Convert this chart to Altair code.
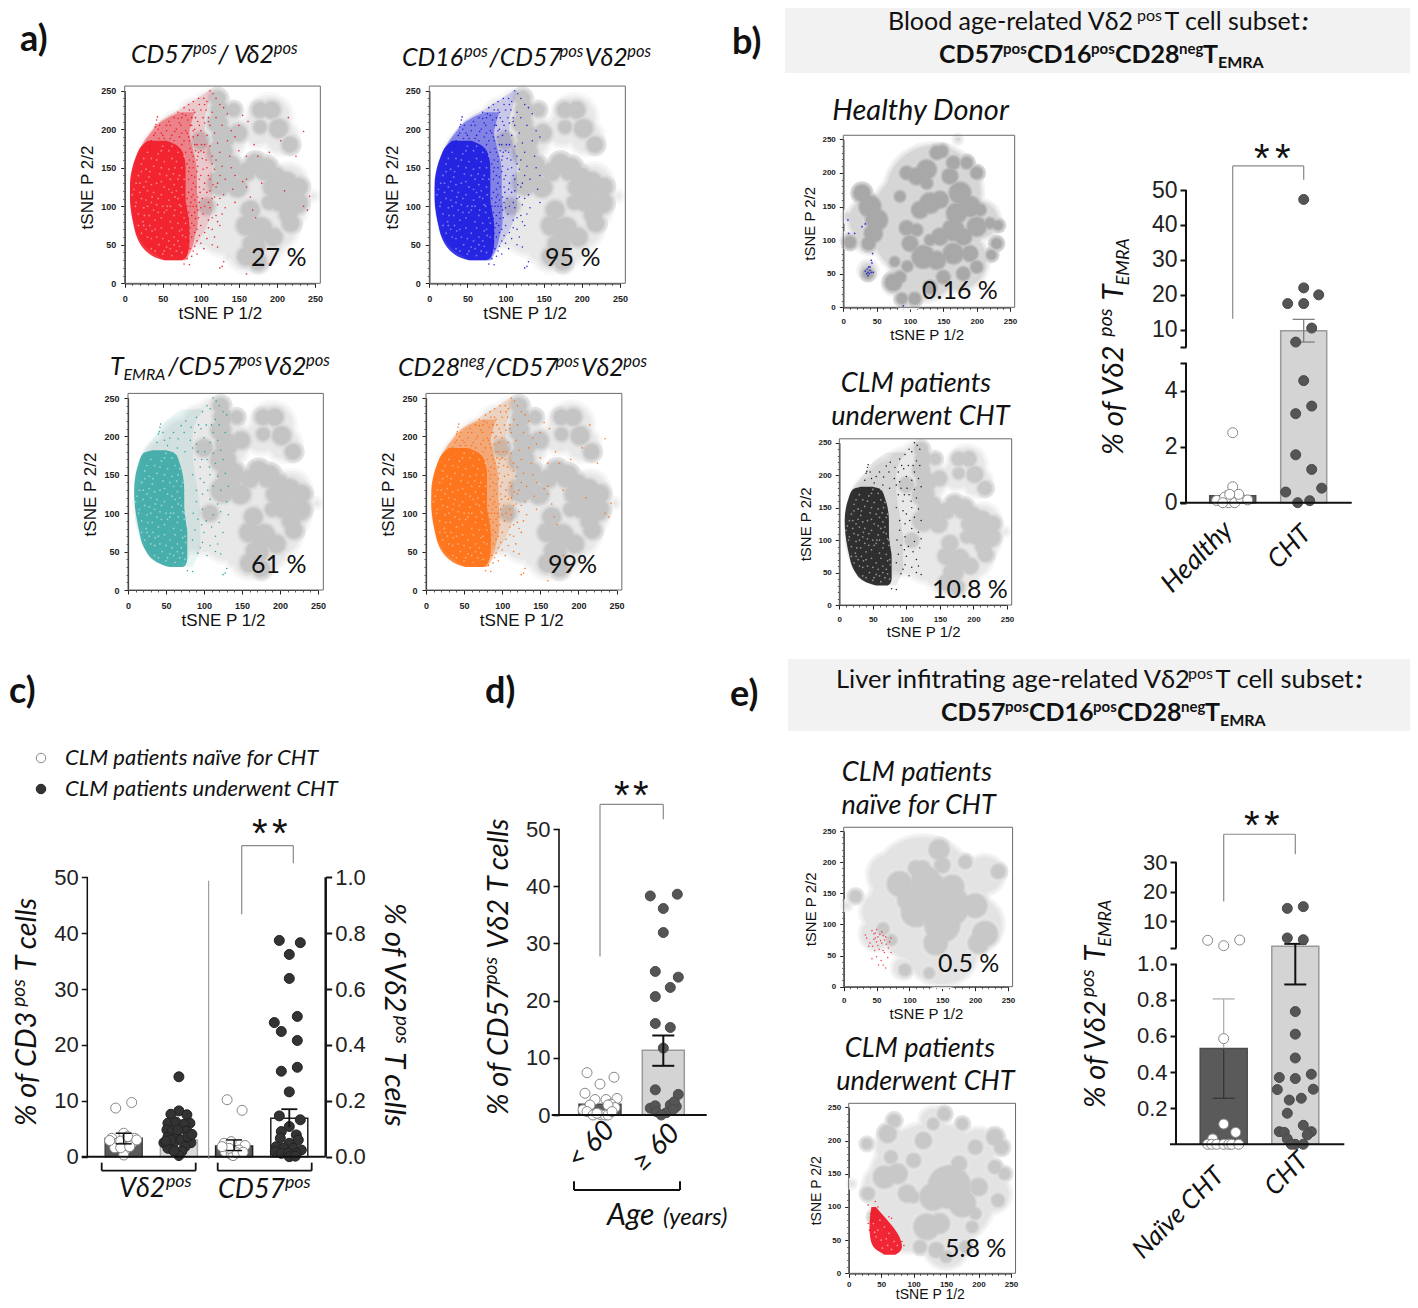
import math
import altair as alt
import pandas as pd

alt.data_transformers.disable_max_rows()

W, H = 1402, 1292
M = 8
ARIAL = "Liberation Sans"
BODY = "Lato"

# ---------------- t-SNE map values ----------------
PALE_A = [(55,110,48),(55,70,35),(60,160,45),(75,190,35),(95,215,25),(115,225,25),(125,190,35),(145,200,15),
          (100,130,45),(100,80,35),(130,120,50),(130,70,35),(190,215,30),(205,190,22),(175,200,22),(170,120,45),
          (205,110,35),(215,130,25),(170,65,48),(195,75,35),(160,40,25),(175,30,15),(218,95,20),(140,40,10),(248,113,3)]
DARK_A = [(122,240,7),(125,225,9),(122,208,10),(130,190,12),(125,170,14),(135,150,15),(125,130,13),(148,125,10),
          (160,145,9),(172,155,10),(185,148,12),(200,140,7),(195,125,10),(212,130,12),(228,125,9),(205,108,12),
          (225,105,12),(215,90,9),(190,105,6),(165,95,9),(160,75,10),(178,70,13),(195,60,9),(170,50,12),(160,35,9),
          (175,28,8),(218,78,8),(178,225,7),(193,225,8),(202,201,9),(178,203,5),(217,180,7),(149,195,8),(143,225,5),
          (100,185,8),(108,100,7)]
PALE_B = [(125,125,95),(135,170,80),(40,130,35),(40,105,25),(120,60,55),(170,70,50),(205,130,30),(10,100,10),
          (37,55,12),(75,35,14),(90,12,10),(105,12,10),(172,250,3),(8,135,6)]
DARK_B = [(28,170,10),(40,150,14),(50,130,14),(45,110,11),(38,95,7),(10,97,6),(37,50,5),(75,37,10),(85,45,6),(88,13,5),
          (107,13,6),(77,68,4),(96,61,5),(125,205,12),(140,230,7),(148,232,6),(165,215,7),(185,215,6),(200,200,6),
          (110,195,10),(95,200,7),(130,155,13),(115,145,10),(145,160,10),(175,170,14),(160,195,9),(125,185,6),
          (190,150,13),(170,140,13),(205,145,6),(220,125,5),(232,122,4),(200,120,12),(165,115,14),(145,105,10),
          (100,95,9),(95,118,8),(110,115,6),(120,75,15),(140,70,11),(165,80,13),(190,80,9),(230,95,5),(222,78,4),
          (200,60,6),(180,50,7),(150,45,7),(130,30,7),(85,165,5),(180,105,10),(130,100,5)]
PALE_E1 = [(130,130,100),(120,160,85),(60,120,35),(70,180,35),(150,60,60),(200,100,45),(215,180,30),(90,30,15),
           (130,25,15),(5,130,4),(50,85,25),(150,30,20)]
DARK_E1 = [(130,150,30),(160,130,30),(110,120,20),(85,165,16),(150,100,25),(140,70,15),(200,130,15),(215,85,16),
           (205,70,12),(145,220,12),(150,195,8),(185,200,6),(235,185,7),(120,190,8),(18,145,5),(60,93,5),(73,75,4),
           (93,27,5),(130,22,4),(125,170,20),(100,140,15),(165,160,15),(110,190,8)]
PALE_E2 = [(130,130,110),(60,130,40),(70,190,30),(200,190,30),(220,120,30),(150,40,35),(90,60,30),(5,135,3),(130,230,20)]
DARK_E2 = [(155,130,32),(130,115,18),(175,105,18),(120,70,17),(140,75,12),(70,230,6),(65,175,6),(28,195,4),(60,210,10),
           (55,145,14),(75,150,12),(90,120,10),(30,120,6),(115,200,9),(100,170,7),(130,225,5),(147,240,6),(175,225,5),
           (195,190,7),(225,205,9),(235,190,7),(225,160,6),(240,150,5),(230,110,6),(200,130,10),(195,90,5),(150,25,5),
           (135,35,8),(100,115,5),(110,40,6),(180,40,5),(190,70,5),(40,85,5),(170,165,8)]

CORE_Y = [30,33,40,50,60,75,90,110,130,150,165,178,185]
CORE_L = [52,42,30,21,16,12,9,7,7,10,15,22,30]
CORE_R = [75,80,83,85,85,85,83,80,80,80,78,70,55]
MID_Y = [30,45,60,80,100,120,140,160,180,195,210,222]
MID_L = [52,30,18,11,8,7,9,14,23,34,48,72]
MID_R = [80,88,92,96,96,95,95,93,88,85,88,92]
FRINGE_Y = [30,45,60,80,100,120,140,160,180,195,210,225,240,250]
FRINGE_L = [55,28,16,10,7,7,9,13,22,32,45,70,95,110]
FRINGE_R = [82,90,100,110,115,115,115,115,110,105,105,108,112,115]
TCORE_Y = [30,33,40,50,60,75,90,110,130,150,165,178,182]
TCORE_L = [55,45,32,24,19,15,12,9,8,10,14,20,32]
TCORE_R = [72,76,78,78,78,78,76,74,74,72,68,62,50]
TFR_Y = [30,60,100,140,180,200,220,235]
TFR_L = [50,18,9,9,20,35,50,70]
TFR_R = [85,95,95,90,85,85,90,100]
PATCH_Y = [28,32,40,55,70,85,100]
PATCH_L = [55,48,38,33,32,33,35]
PATCH_R = [72,78,82,78,68,55,42]

SPARSE = [(90,225),(98,232),(104,240),(112,250),(116,246),(108,236),(120,240),(125,232),(115,222),(103,215),(96,210),
          (88,205),(112,205),(120,215),(130,228),(135,220),(128,205),(140,198),(118,195),(108,192),(100,198),(90,190),
          (112,178),(122,182),(135,185),(145,190),(150,205),(155,218),(162,210),(150,172),(138,165),(125,170),(115,165),
          (104,170),(95,160),(108,150),(118,148),(128,152),(140,150),(112,135),(122,130),(132,135),(145,140),(155,132),
          (160,125),(142,122),(130,115),(118,112),(108,118),(98,105),(112,98),(122,102),(132,98),(145,105),(120,88),
          (110,82),(100,75),(115,70),(125,75),(118,60),(108,58),(98,62),(92,48),(104,45),(115,50),(122,47),(125,20),
          (128,22),(130,28),(78,25),(85,24),(97,85),(103,90),(90,130),(95,145),(88,170),(92,180),(85,150),(98,125),
          (90,115),(86,100),(92,92),(88,78),(95,55),(85,65),(100,140),(105,130),(107,160),(101,180),(97,170),(110,215),
          (93,215),(83,212),(76,220),(70,214),(60,205),(55,198),(66,197),(74,205),(82,195),(65,185),(75,180),(85,185),
          (42,212),(41,206),(43,216),(40,203),(48,195),(38,192),(52,188),(46,205),(160,135),(165,112),(180,130),(215,215),
          (235,197),(205,185),(190,170),(225,165),(235,100),(243,113),(240,95),(210,120),(175,165),(168,95),(172,85),
          (190,25),(180,45),(160,12),(170,180),(160,165)]
EXTRA = [(82,40),(86,45),(84,55),(88,60),(92,66),(86,72),(91,75),(95,70),(84,84),(88,88),(93,84),(96,95),(84,92),(87,105),
         (92,108),(96,112),(102,110),(84,118),(88,122),(93,125),(99,118),(104,122),(84,135),(88,140),(92,138),(98,135),
         (103,148),(84,145),(90,150),(96,152),(85,160),(90,165),(96,165),(102,162),(80,170),(86,175),(93,172),(78,185),
         (84,190),(90,198),(96,192),(72,190),(80,198),(86,205),(92,200),(98,205),(105,208),(62,192),(68,200),(75,195),
         (58,210),(65,215),(72,208),(80,218),(85,225),(92,222),(100,225),(78,228),(84,232),(90,236),(97,240),(105,232),
         (35,185),(40,195),(45,188),(50,192),(55,205),(60,188),(33,178),(44,200),(70,222),(75,215),(88,215),(107,225),
         (110,210),(95,180),(100,172),(105,180),(90,158),(82,155),(88,112),(82,110),(82,100),(90,100),(94,100),(100,98),
         (105,100),(110,105),(115,110),(112,120),(116,128),(110,140),(115,155),(120,160),(125,140),(120,125),(125,110),
         (128,90),(122,80),(115,85),(110,72),(105,66),(100,52),(90,42),(95,38),(88,35),(82,32)]
SPECKS = [(30,60),(45,50),(60,45),(70,55),(25,75),(40,70),(55,65),(75,70),(18,90),(32,88),(48,85),(65,88),(78,85),
          (15,105),(28,108),(42,102),(58,108),(72,102),(12,122),(25,125),(38,118),(52,125),(68,120),(75,125),(18,140),
          (32,138),(46,142),(60,135),(72,140),(22,155),(38,152),(52,158),(66,150),(30,170),(44,168),(58,172),(35,45),
          (50,38),(62,36),(68,42),(22,65),(80,60),(80,78),(10,115),(20,118),(35,128),(48,132),(62,118),(70,110),(55,95),
          (38,95),(25,98),(42,60),(58,55),(72,48),(28,148),(42,160),(62,162),(75,150),(50,178),
          (14,100),(22,110),(30,100),(36,112),(44,110),(50,100),(60,100),(66,95),(74,92),(20,130),(28,132),(42,130),
          (55,140),(65,128),(70,135),(24,80),(33,75),(48,72),(62,72),(70,78),(35,58),(50,58),(65,60),(76,62),(40,42),
          (55,47),(65,50),(75,40),(18,75),(26,88),(40,82),(52,92),(60,80),(72,68),(35,105),(48,115),(58,122),(66,112),
          (76,115),(15,130),(33,145),(48,150),(58,148),(68,158),(25,162),(35,162),(48,172),(62,178),(70,170),(78,165),
          (56,100),(44,92),(30,120),(22,145),(64,142),(78,135),(74,100),(36,68),(28,70),(52,42)]
BLUE_HEALTHY = [(7,130),(8,110),(17,110),(28,120),(33,124),(44,80),(42,70),(43,66),(38,60),(36,57),(40,55),(33,54),
                (37,52),(39,50),(35,50),(42,52),(45,52),(37,47),(40,60),(90,2)]
RED_NAIVE = [(33,83),(35,78),(43,90),(46,85),(50,92),(52,80),(48,78),(55,84),(58,88),(60,82),(62,75),(50,72),(46,76),
             (40,70),(44,65),(52,66),(58,70),(65,68),(70,72),(68,62),(60,58),(54,60),(47,58),(62,55),(72,55),(43,45),
             (57,42),(60,35),(53,35),(64,30),(50,48),(67,47),(38,65),(56,74),(48,86),(64,80),(72,78)]
RED_CHT = [(30,103),(41,108),(38,95),(34,90),(30,75),(45,100),(62,85),(66,83),(32,65),(85,42),(82,48)]
RED_CHT_SPECKS = [(50,50),(60,42),(70,48),(45,65),(55,70),(62,60),(42,55),(48,80),(38,75),(52,38),(66,36),(75,42),(40,62),(58,52)]

# ---------------- bar panel values ----------------
B_MEANS = [0.25, 9.7]
B_HEALTHY = [(0,2.5),(0,0.57),(-16,0.08),(-8,0.2),(-4,0.0),(2,0.0),(8,0.16),(15,0.1),(-10,0.0),(6,0.3),(-3,0.3)]
B_CHT = [(0,47.3),(0,22),(15,20),(-16,17.5),(0,17.5),(8,10.5),(-8,6.5),(0,4.36),(8,3.45),(-8,3.18),(-8,1.71),(8,1.19),
         (-18,0.38),(18,0.52),(-6,0),(6,0.07)]
C_MEANS = [3.3, 3.0, 1.9, 6.9]
C_G1 = [(-8,8.7),(8,9.7),(0,4.2),(-12,3.3),(11,3.3),(-7,2.4),(8,2.4),(-9,1.6),(1,1.1),(0,0.3),(-3,2.8),(4,3.6),(-14,2.9),
        (13,3),(-3,1.6),(6,1.8)]
C_G2 = [(0,14.3),(0,8.2),(8,7.5),(-8,7.6),(-11,6),(11,6),(-3,6.2),(5,5.8),(-12,4.8),(-7,4.5),(8,4.6),(-2,3.5),(2,3),
        (-11,3.5),(-15,2.5),(12,2.5),(-6,2.2),(6,1.8),(-11,1.5),(3,1),(0,0.2),(-5,1),(9,3.6),(-8,3),(-1,4.8),(13,4),(-13,2.8)]
C_G3 = [(-7,10.2),(8,8.3),(-10,2.4),(11,2),(-3,2.7),(5,1.2),(-9,0.9),(-3,0.4),(-1,0.2),(3,0.7),(-5,1.5),(9,0.8),(-12,1.8)]
C_G4 = [(-10,38.7),(11,38.3),(0,36.2),(0,31.9),(8,25.1),(-15,24),(-8,22.4),(8,20.8),(8,16),(-8,15.3),(0,11.6),(-10,7.3),
        (11,6.6),(0,5.4),(-8,4.5),(7,3.9),(-9,3.3),(9,3),(0,2.4),(-13,1.8),(-6,1.5),(4,1.5),(12,1.2),(-14,0.9),(-8,0.6),
        (-1,0.6),(7,0.6),(0,0),(6,0.1)]
D_MEANS = [1.9, 11.3]
D_YOUNG = [(-13,7.4),(14,6.6),(0,5.4),(-15,3.8),(-5,2.7),(6,2.7),(17,2.9),(-10,1.75),(11,1.9),(15,1.3),(8,1.75),(-17,0.9),
           (-13,0.6),(-7,0),(0,0.1),(5,0),(-3,0.3),(8,0),(12,0.6)]
D_OLD = [(-13,38.3),(14,38.6),(0,36.1),(0,31.9),(-8,25.1),(15,24.1),(7,22.3),(-8,20.7),(-8,16),(7,15.3),(0,11.7),(-8,4.4),
         (15,3.6),(-13,1.2),(-8,1.6),(10,1.3),(7,1.75),(13,1.5),(11,2.3),(-7,0.6),(3,0.4),(-2,0),(10,1)]
E_MEANS = [0.53, 1.6]
E_NAIVE = [(-16,3.6),(0,1.8),(16,3.7),(0,0.585),(0,0.112),(12,0.066),(-11,0.03),(-16,0),(-12,0),(-7,0),(0,0),(5,0),(8,0),(15,0)]
E_CHT = [(-8,14.4),(8,15),(-8,4.4),(8,3.8),(0,0.735),(0,0.61),(0,0.478),(-16,0.37),(0,0.364),(16,0.388),(-18,0.303),
         (18,0.305),(6,0.255),(-6,0.245),(-8,0.172),(8,0.105),(-16,0.07),(-11,0.066),(16,0.07),(12,0.052),(-8,0.03),
         (0,0),(8,0),(-4,0)]

layers = []

# ---------------- helpers ----------------
def lerp_grey(dark, t):
    v = int(round(255 + (dark - 255) * t))
    return f"#{v:02x}{v:02x}{v:02x}"

RINGS_A = ["#f8f8f8", "#f0f0f0", "#e8e8e8"]
RINGS_B = ["#f3f3f3", "#e6e6e6", "#d6d6d6"]
RINGS_E = ["#f5f5f5", "#ececec", "#e3e3e3"]

def tsne_panel(fx0, fx250, fy0, fy250, pale, dark_blobs, dark, extra=3.5, rings=RINGS_A):
    sx = alt.Scale(domain=[0, 250], range=[fx0 - M, fx250 - M], nice=False, zero=False)
    sy = alt.Scale(domain=[0, 250], range=[fy0 - M, fy250 - M], nice=False, zero=False)
    k = (fx250 - fx0) / 250
    rows = []
    for grow, col in zip((8, 4, 0), rings):
        for x, y, r in pale:
            rows.append(dict(x=x, y=y, s=3.1416 * ((r + grow) * k) ** 2, c=col))
    for grow, t in [(7, 0.45), (4.5, 0.62), (2.5, 0.8), (1, 0.92), (0, 1.0)]:
        for x, y, r in dark_blobs:
            rows.append(dict(x=x, y=y, s=3.1416 * ((r + extra + grow) * k) ** 2, c=lerp_grey(dark, t)))
    layers.append(alt.Chart(pd.DataFrame(rows)).mark_circle(opacity=1).encode(
        x=alt.X("x:Q", scale=sx, axis=None), y=alt.Y("y:Q", scale=sy, axis=None),
        size=alt.Size("s:Q", scale=None), fill=alt.Fill("c:N", scale=None)))
    return sx, sy

def frame_axes(sx, sy, fy0, fx0, label_fs, title_fs, tpx, tpy, lpx=7, lpy=5):
    frame = pd.DataFrame(dict(a=[0], b=[257], c=[0], d=[256]))
    layers.append(alt.Chart(frame).mark_rect(fillOpacity=0, stroke="#6a6a6a", strokeWidth=1).encode(
        x=alt.X("a:Q", scale=sx, axis=None), x2="b:Q", y=alt.Y("c:Q", scale=sy, axis=None), y2="d:Q"))
    minor_vals = [v for v in range(0, 251, 10) if v % 50]
    layers.append(alt.Chart(frame).mark_rect(opacity=0).encode(
        x=alt.X("a:Q", scale=sx, axis=alt.Axis(orient="bottom", values=minor_vals, labels=False, title=None, domain=False,
                                               grid=False, tickSize=2, tickColor="#333", tickWidth=0.8, offset=fy0 - M - H)),
        x2="b:Q",
        y=alt.Y("c:Q", scale=sy, axis=alt.Axis(orient="left", values=minor_vals, labels=False, title=None, domain=False,
                                               grid=False, tickSize=2, tickColor="#333", tickWidth=0.8, offset=-(fx0 - M))),
        y2="d:Q"))
    vals = [0, 50, 100, 150, 200, 250]
    common = dict(values=vals, format="d", grid=False, domainColor="#222", domainWidth=1.2, tickColor="#222", tickSize=4,
                  tickWidth=1, labelFont=ARIAL, labelFontSize=label_fs, labelColor="#222", labelFlush=False,
                  labelOverlap=False, labelFontWeight="bold",
                  titleFont=ARIAL, titleFontSize=title_fs, titleFontWeight="normal", titleColor="#111")
    layers.append(alt.Chart(frame).mark_rect(opacity=0).encode(
        x=alt.X("a:Q", scale=sx, axis=alt.Axis(orient="bottom", title="tSNE P 1/2", offset=fy0 - M - H, titlePadding=tpx,
                                               labelPadding=lpx, **common)),
        x2="b:Q",
        y=alt.Y("c:Q", scale=sy, axis=alt.Axis(orient="left", title="tSNE P 2/2", offset=-(fx0 - M), titlePadding=tpy,
                                               labelPadding=lpy, **common)),
        y2="d:Q"))

def band(sx, sy, ys, ls, rs, color, opacity):
    df = pd.DataFrame(dict(y=ys, l=ls, r=rs))
    layers.append(alt.Chart(df).mark_area(orient="horizontal", color=color, opacity=opacity, interpolate="monotone").encode(
        y=alt.Y("y:Q", scale=sy, axis=None), x=alt.X("l:Q", scale=sx, axis=None), x2="r:Q"))

def dots(sx, sy, pts, color, size=3.0, opacity=0.9):
    df = pd.DataFrame(pts, columns=["x", "y"])
    layers.append(alt.Chart(df).mark_circle(color=color, size=size, opacity=opacity).encode(
        x=alt.X("x:Q", scale=sx, axis=None), y=alt.Y("y:Q", scale=sy, axis=None)))

def seg(rows, sx, sy, color, width, y_axis=None):
    df = pd.DataFrame(rows, columns=["xa", "xb", "ya", "yb"])
    layers.append(alt.Chart(df).mark_rule(color=color, strokeWidth=width).encode(
        x=alt.X("xa:Q", scale=sx, axis=None), x2="xb:Q",
        y=alt.Y("ya:Q", scale=sy, axis=y_axis), y2="yb:Q"))

def bars(means, half, sx, sy, fills, strokes, sw=1.5):
    df = pd.DataFrame(dict(l=[i - half for i in range(len(means))], r=[i + half for i in range(len(means))],
                           z=[0] * len(means), v=means, f=fills, s=strokes))
    layers.append(alt.Chart(df).mark_rect(strokeWidth=sw).encode(
        x=alt.X("l:Q", scale=sx, axis=None), x2="r:Q", y=alt.Y("z:Q", scale=sy, axis=None), y2="v:Q",
        fill=alt.Fill("f:N", scale=None), stroke=alt.Stroke("s:N", scale=None)))

def swarm(points, idx, spacing, sx, sy, fill, stroke, size=100):
    df = pd.DataFrame(dict(x=[idx + p[0] / spacing for p in points], y=[p[1] for p in points]))
    layers.append(alt.Chart(df).mark_circle(opacity=1, fill=fill, stroke=stroke, strokeWidth=1, size=size).encode(
        x=alt.X("x:Q", scale=sx, axis=None), y=alt.Y("y:Q", scale=sy, axis=None)))

def num_axis(values, offset, fs, expr=None, fmt=None, orient="left", width=2, ts=6):
    kw = dict(values=values, title=None, domain=False, grid=False, offset=offset, orient=orient, tickSize=ts, tickWidth=width,
              tickColor="#111", labelFont=ARIAL, labelFontSize=fs, labelColor="#222", labelPadding=3, labelOverlap=False,
              labelFlush=False)
    if expr:
        kw["labelExpr"] = expr
    if fmt:
        kw["format"] = fmt
    return alt.Axis(**kw)

# rich text ----------------------------------------------------------------
texts = []
def cw(ch):
    if ch == " ": return 0.19
    if ch in "il.:,'j|": return 0.24
    if ch in "trf/I": return 0.33
    if ch in "mMw": return 0.8
    if ch == "%": return 0.8
    if ch in "V": return 0.62
    if ch in "δ": return 0.5
    if ch in "ABCDEGHKNOPQRUXYZ": return 0.66
    if ch in "FJLST": return 0.54
    if ch in "0123456789": return 0.58
    return 0.51

def adv(p):
    if len(p) > 6:
        return p[6]
    return sum(cw(c) for c in p[0]) * p[1]

def rich(x, y, pieces, angle=0, anchor="left"):
    th = math.radians(angle)
    dirx, diry = math.cos(th), math.sin(th)
    perpx, perpy = math.sin(th), -math.cos(th)
    total = sum(p if isinstance(p, (int, float)) else adv(p) for p in pieces)
    pos = -total / 2 if anchor == "middle" else 0
    for p in pieces:
        if isinstance(p, (int, float)):
            pos += p
            continue
        t, fs = p[0], p[1]
        rise = p[2] if len(p) > 2 else 0
        st = p[3] if len(p) > 3 else "normal"
        wt = p[4] if len(p) > 4 else "normal"
        fnt = p[5] if len(p) > 5 else BODY
        body = t.lstrip(" ")
        lead = (len(t) - len(body)) * 0.22 * fs
        texts.append(dict(t=body, fs=fs, st=st, wt=wt, fnt=fnt, a=angle % 360,
                          x=x - M + dirx * (pos + lead) + perpx * rise, y=y - M + diry * (pos + lead) + perpy * rise))
        pos += adv(p)

I = "italic"
N = "normal"
BOLD = "bold"
def ipos(fs): return ("pos", fs * 0.66, fs * 0.38, I)
def ital(t, fs): return (t, fs, 0, I)

# ---------------- panel a ----------------
ALLDOTS = SPARSE + EXTRA
def population(sx, sy, color, speck, fringe_op=0.14, mid_op=0.38):
    band(sx, sy, FRINGE_Y, FRINGE_L, FRINGE_R, color, fringe_op)
    band(sx, sy, MID_Y, MID_L, MID_R, color, mid_op)
    band(sx, sy, CORE_Y, CORE_L, CORE_R, color, 0.82)
    dots(sx, sy, SPECKS, speck, 3.5, 0.55)

sx, sy = tsne_panel(124.7, 315, 283.3, 90.7, PALE_A, DARK_A, 196)
population(sx, sy, "#f2101c", "#ffc4c4")
dots(sx, sy, ALLDOTS, "#f2101c", 2.6)
frame_axes(sx, sy, 283.3, 124.7, 9, 17, 2, 4)

sx, sy = tsne_panel(429.3, 620, 283.3, 90.7, PALE_A, DARK_A, 196)
population(sx, sy, "#1010e0", "#bcbcff")
dots(sx, sy, [p for p in ALLDOTS if p[0] < 150], "#1010e0", 2.4)
frame_axes(sx, sy, 283.3, 429.3, 9, 17, 2, 4)

sx, sy = tsne_panel(128, 318, 590, 398, PALE_A, DARK_A, 196)
band(sx, sy, TFR_Y, TFR_L, TFR_R, "#1a9e9a", 0.1)
band(sx, sy, TCORE_Y, TCORE_L, TCORE_R, "#1a9e9a", 0.76)
dots(sx, sy, SPECKS, "#d6efee", 3.5, 0.55)
dots(sx, sy, [p for p in SPARSE if p[0] < 135], "#1a9e9a", 2.4)
frame_axes(sx, sy, 590, 128, 9, 17, 2, 4)

sx, sy = tsne_panel(426, 616.5, 590, 398, PALE_A, DARK_A, 196)
population(sx, sy, "#ff6a08", "#ffd2b0", 0.16, 0.4)
dots(sx, sy, ALLDOTS, "#ff6a08", 2.6)
frame_axes(sx, sy, 590, 426, 9, 17, 2, 4)

# ---------------- panel b maps ----------------
sx, sy = tsne_panel(843.3, 1010, 307.3, 139.3, PALE_B, DARK_B, 168, extra=3, rings=RINGS_B)
dots(sx, sy, BLUE_HEALTHY, "#2020d0", 3)
frame_axes(sx, sy, 307.3, 843.3, 8, 15, 2, 4, 6, 4)

sx, sy = tsne_panel(839.3, 1007, 605, 442.7, PALE_A, DARK_A, 200)
band(sx, sy, TFR_Y, TFR_L, TFR_R, "#000000", 0.08)
band(sx, sy, TCORE_Y, TCORE_L, TCORE_R, "#000000", 0.78)
dots(sx, sy, SPECKS, "#d8d8d8", 3, 0.6)
dots(sx, sy, [p for p in SPARSE if p[0] < 125], "#000000", 2.2)
frame_axes(sx, sy, 605, 839.3, 8, 15, 1, 4, 6, 4)

# ---------------- panel e maps ----------------
sx, sy = tsne_panel(843.7, 1008, 986.7, 831, PALE_E1, DARK_E1, 200, extra=4, rings=RINGS_E)
dots(sx, sy, RED_NAIVE, "#f03040", 2.4)
frame_axes(sx, sy, 986.7, 843.7, 8, 15, 2, 4, 6, 4)

sx, sy = tsne_panel(848.7, 1011, 1273.3, 1107.3, PALE_E2, DARK_E2, 200, extra=4, rings=RINGS_E)
band(sx, sy, PATCH_Y, PATCH_L, PATCH_R, "#f01020", 0.9)
dots(sx, sy, RED_CHT_SPECKS, "#ffb0b0", 3, 0.8)
dots(sx, sy, RED_CHT, "#f01020", 2.4)
frame_axes(sx, sy, 1273.3, 848.7, 8, 14, -1, 4, 3, 4)

# ---------------- header boxes ----------------
boxes = pd.DataFrame(dict(x=[785 - M, 788 - M], x2=[1416 - M, 1416 - M], y=[0, 659 - M], y2=[73 - M, 731 - M]))
layers.append(alt.Chart(boxes).mark_rect(fill="#f2f2f2").encode(
    x=alt.X("x:Q", scale=None, axis=None), x2="x2:Q", y=alt.Y("y:Q", scale=None, axis=None), y2="y2:Q"))

# ---------------- panel b bars ----------------
SP = 71.0
sx = alt.Scale(domain=[0, 1], range=[1232.7 - M, 1303.7 - M], nice=False, zero=False)
sy = alt.Scale(domain=[0, 5, 5.0001, 50], range=[502.7 - M, 362.7 - M, 347.3 - M, 190 - M], nice=False, zero=False)
bars(B_MEANS, 23 / SP, sx, sy, ["#5a5a5a", "#d4d4d4"], ["#4c4c4c", "#9a9a9a"])
seg([(0, 0, 0.1, 0.42), (-8 / SP, 8 / SP, 0.42, 0.42)], sx, sy, "#777777", 1)
seg([(1, 1, 6.5, 13), (1 - 11 / SP, 1 + 11 / SP, 13, 13), (1 - 11 / SP, 1 + 11 / SP, 6.5, 6.5)], sx, sy, "#777777", 1.2)
swarm(B_HEALTHY, 0, SP, sx, sy, "#ffffff", "#888888")
swarm(B_CHT, 1, SP, sx, sy, "#555555", "#4a4a4a")
seg([(-52.7 / SP, 48 / SP + 1, 0, 0)], sx, sy, "#111111", 2)
seg([(-46.7 / SP, -46.7 / SP, 0, 5), (-46.7 / SP, -46.7 / SP, 5.0001, 50)], sx, sy, "#111111", 2,
    y_axis=num_axis([0, 2, 4, 5, 5.0001, 10, 20, 30, 40, 50], -(1186 - M), 23,
                    expr="(datum.value==5||datum.value==5.0001)?'':format(datum.value,'d')"))
seg([(0, 0, 13.2, 56.9), (0, 1, 56.9, 56.9), (1, 1, 52.9, 56.9)], sx, sy, "#8a8a8a", 1.2)

# ---------------- panel c ----------------
SP = 55.2
sx = alt.Scale(domain=[0, 3], range=[123.7 - M, 289.3 - M], nice=False, zero=False)
sy = alt.Scale(domain=[0, 50], range=[1156.7 - M, 877.3 - M], nice=False, zero=False)
sr = alt.Scale(domain=[0, 1], range=[1156.7 - M, 877.3 - M], nice=False, zero=False)
bars(C_MEANS, 18.5 / SP, sx, sy, ["#5a5a5a", "#dcdcdc", "#5a5a5a", "#ffffff"], ["#444444", "#aaaaaa", "#222222", "#222222"])
swarm(C_G1, 0, SP, sx, sy, "#ffffff", "#888888")
swarm(C_G2, 1, SP, sx, sy, "#333333", "#222222")
swarm(C_G3, 2, SP, sx, sy, "#ffffff", "#888888")
swarm(C_G4, 3, SP, sx, sy, "#333333", "#222222")
seg([(0, 0, 2.3, 4.2), (-8 / SP, 8 / SP, 4.2, 4.2), (-8 / SP, 8 / SP, 2.3, 2.3)], sx, sy, "#111111", 1.5)
seg([(2, 2, 1.1, 3), (2 - 8 / SP, 2 + 8 / SP, 3, 3), (2 - 8 / SP, 2 + 8 / SP, 1.1, 1.1)], sx, sy, "#111111", 1.5)
seg([(3, 3, 5.3, 8.5), (3 - 8 / SP, 3 + 8 / SP, 8.5, 8.5)], sx, sy, "#111111", 1.8)
seg([(-42 / SP, 202 / SP, 0, 0)], sx, sy, "#111111", 2)
seg([(85.0 / SP, 85.0 / SP, -0.4, 49.4)], sx, sy, "#8a8a8a", 1)
seg([(-36.4 / SP, -36.4 / SP, 0, 50)], sx, sy, "#111111", 1.5,
    y_axis=num_axis([0, 10, 20, 30, 40, 50], -(87.3 - M), 22, fmt="d", width=1.5))
seg([(202 / SP, 202 / SP, 0, 1)], sx, sr, "#111111", 2.5,
    y_axis=num_axis([0, 0.2, 0.4, 0.6, 0.8, 1.0], 325.7 - M - W, 22, fmt=".1f", orient="right"))
seg([(118 / SP, 118 / SP, 43.4, 55.66), (118 / SP, 169.6 / SP, 55.66, 55.66), (169.6 / SP, 169.6 / SP, 52.5, 55.66)],
    sx, sy, "#8a8a8a", 1.2)
seg([(-22 / SP, 72 / SP, -2.5, -2.5), (-22 / SP, -22 / SP, -1.07, -2.5), (72 / SP, 72 / SP, -1.07, -2.5),
     (94 / SP, 188 / SP, -2.5, -2.5), (94 / SP, 94 / SP, -1.07, -2.5), (188 / SP, 188 / SP, -1.07, -2.5)], sx, sy, "#111111", 1.8)

# ---------------- panel d ----------------
SP = 63.3
sx = alt.Scale(domain=[0, 1], range=[600 - M, 663.3 - M], nice=False, zero=False)
sy = alt.Scale(domain=[0, 50], range=[1115 - M, 829 - M], nice=False, zero=False)
bars(D_MEANS, 21 / SP, sx, sy, ["#5a5a5a", "#d4d4d4"], ["#444444", "#9a9a9a"])
swarm(D_YOUNG, 0, SP, sx, sy, "#ffffff", "#888888")
swarm(D_OLD, 1, SP, sx, sy, "#555555", "#4a4a4a")
seg([(1, 1, 8.6, 13.9), (1 - 11 / SP, 1 + 11 / SP, 13.9, 13.9), (1 - 11 / SP, 1 + 11 / SP, 8.6, 8.6)], sx, sy, "#111111", 2)
seg([(-48.3 / SP, 106.7 / SP, 0, 0)], sx, sy, "#111111", 2)
seg([(-41 / SP, -41 / SP, 0, 50)], sx, sy, "#111111", 1.6,
    y_axis=num_axis([0, 10, 20, 30, 40, 50], -(559 - M), 22, fmt="d", width=1.6))
seg([(0, 0, 27.7, 54.3), (0, 1, 54.3, 54.3), (1, 1, 51.7, 54.3)], sx, sy, "#8a8a8a", 1.2)
seg([(-26 / SP, 80 / SP, -13.1, -13.1), (-26 / SP, -26 / SP, -11.6, -13.1), (80 / SP, 80 / SP, -11.6, -13.1)], sx, sy, "#111111", 2)

# ---------------- panel e bars ----------------
SP = 71.6
sx = alt.Scale(domain=[0, 1], range=[1223.7 - M, 1295.3 - M], nice=False, zero=False)
sy = alt.Scale(domain=[0, 1, 1.0001, 30], range=[1144.3 - M, 963.7 - M, 948 - M, 862.3 - M], nice=False, zero=False)
bars(E_MEANS, 23.5 / SP, sx, sy, ["#5a5a5a", "#d4d4d4"], ["#4c4c4c", "#9a9a9a"])
seg([(0, 0, 0.53, 0.805), (-11 / SP, 11 / SP, 0.805, 0.805)], sx, sy, "#aaaaaa", 1.2)
seg([(0, 0, 0.255, 0.53), (-11 / SP, 11 / SP, 0.255, 0.255)], sx, sy, "#333333", 1.2)
seg([(1, 1, 0.885, 2.4), (1 - 11 / SP, 1 + 11 / SP, 0.885, 0.885), (1 - 11 / SP, 1 + 11 / SP, 2.4, 2.4)], sx, sy, "#111111", 2)
swarm(E_NAIVE, 0, SP, sx, sy, "#ffffff", "#888888")
swarm(E_CHT, 1, SP, sx, sy, "#555555", "#4a4a4a")
seg([(-53.7 / SP, 49 / SP + 1, 0, 0)], sx, sy, "#111111", 2)
seg([(-47.7 / SP, -47.7 / SP, 0, 1), (-47.7 / SP, -47.7 / SP, 1.0001, 30)], sx, sy, "#111111", 2,
    y_axis=num_axis([0.2, 0.4, 0.6, 0.8, 1.0, 1.0001, 10, 20, 30], -(1176 - M), 22,
                    expr="datum.value<=1?format(datum.value,'.1f'):(datum.value<2?'':format(datum.value,'d'))"))
seg([(0, 0, 16.7, 39.5), (0, 1, 39.5, 39.5), (1, 1, 32.7, 39.5)], sx, sy, "#8a8a8a", 1.2)

# ---------------- legend symbols ----------------
legend_rows = pd.DataFrame(dict(x=[41 - M, 41 - M], y=[758 - M, 789 - M], f=["#ffffff", "#333333"], s=["#888888", "#222222"]))
layers.append(alt.Chart(legend_rows).mark_circle(opacity=1, size=90, strokeWidth=1).encode(
    x=alt.X("x:Q", scale=None, axis=None), y=alt.Y("y:Q", scale=None, axis=None),
    fill=alt.Fill("f:N", scale=None), stroke=alt.Stroke("s:N", scale=None)))

# ---------------- texts ----------------
FS = 25
rich(131, 63, [ital("CD57", FS), ipos(FS), ital("/ V", FS), ital("δ2", FS), ipos(FS)])
rich(402, 66, [ital("CD16", FS), ipos(FS), ital("/CD57", FS), ipos(FS), ital("Vδ2", FS), ipos(FS)])
rich(110, 375, [ital("T", FS), ("EMRA", 16, -5, I), ital("/CD57", FS), ipos(FS), ital("Vδ2", FS), ipos(FS)])
rich(398, 376, [ital("CD28", FS), ("neg", FS * 0.66, FS * 0.38, I), ital("/CD57", FS), ipos(FS), ital("Vδ2", FS), ipos(FS)])
for x, y, t in [(251, 266, "27 %"), (545, 266, "95 %"), (251, 573, "61 %"), (548, 573, "99%"), (922, 299, "0.16 %"),
                (932, 598, "10.8 %"), (938, 972, "0.5 %"), (945, 1257, "5.8 %")]:
    rich(x, y, [(t, 25)])
for x, y, t in [(20, 51, "a)"), (732, 54, "b)"), (9, 703, "c)"), (485, 703, "d)"), (730, 706, "e)")]:
    rich(x, y, [(t, 36, 0, N, BOLD)])

F2 = 25
rich(888, 30, [("Blood age-related Vδ2", F2, 0, N, N, BODY, 249), ("pos", 16, 9, N, N, BODY, 22), (" T cell subset", F2, 0, N, N, BODY, 143),
               (":", F2, 0, I, BOLD)])
rich(836, 688, [("Liver infitrating age-related Vδ2", 25.5, 0, N, N, BODY, 352), ("pos", 16, 9, N, N, BODY, 22),
                (" T cell subset", 25.5, 0, N, N, BODY, 146), (":", 25.5, 0, I, BOLD)])
def subset_line(x, y):
    rich(x, y, [("CD57", F2, 0, N, BOLD, BODY, 64), ("pos", 15, 9, N, BOLD, BODY, 24), ("CD16", F2, 0, N, BOLD, BODY, 64),
                ("pos", 15, 9, N, BOLD, BODY, 24), ("CD28", F2, 0, N, BOLD, BODY, 64), ("neg", 15, 9, N, BOLD, BODY, 24),
                ("T", F2, 0, N, BOLD, BODY, 15), ("EMRA", 16, -5, N, BOLD)])
subset_line(939, 63)
subset_line(941, 721)
for cx, y, t, fs in [(919, 120, "Healthy Donor", 29), (917, 392, "CLM patients", 27), (920, 425, "underwent CHT", 27),
                     (918, 781, "CLM patients", 27), (922, 814, "naïve for CHT", 27), (921, 1057, "CLM patients", 27),
                     (925, 1090, "underwent CHT", 27)]:
    rich(cx, y, [ital(t, fs)], anchor="middle")

# category labels
rich(1172, 594, [ital("Healthy", 27)], angle=-45)
rich(1278, 570, [ital("CHT", 26)], angle=-45)
rich(1143, 1260, [ital("Naïve CHT", 26)], angle=-45)
rich(1275, 1197, [ital("CHT", 26)], angle=-45)
rich(578, 1170, [ital("< 60", 28)], angle=-45)
rich(643, 1173, [ital("≥ 60", 28)], angle=-45)
rich(607, 1225, [ital("Age", 30)])
rich(663, 1225, [ital("(years)", 24)])
rich(119, 1197, [ital("Vδ2", 27), 1, ipos(27)])
rich(218, 1198, [ital("CD57", 27), ipos(27)])
rich(65, 765, [ital("CLM patients naïve for CHT", 22)])
rich(65, 796, [ital("CLM patients underwent CHT", 22)])

# axis titles
rich(36, 1126, [ital("% of  CD3", 29), ipos(29), ital(" T cells", 29)], angle=-90)
rich(385, 903, [ital("% of Vδ2", 29.5), 3, ipos(29.5), ital(" T cells", 29.5)], angle=90)
rich(508, 1115, [ital("% of CD57", 29), ipos(29), ital(" Vδ2 T cells", 29)], angle=-90)
rich(1123, 455, [ital("% of  Vδ2", 29.5), 3, ipos(29.5), ital(" T", 29.5), ("EMRA", 18, -6, I)], angle=-90)
rich(1105, 1108, [ital("% of Vδ2", 29), 3, ipos(29), ital(" T", 29), ("EMRA", 18, -6, I)], angle=-90)

# significance marks
for a, b, c in [(1262, 1283, 152), (260, 280, 827), (622, 641, 789), (1252, 1272, 819)]:
    rich(a - 8, c + 20, [("*", 40, 0, N, N, ARIAL)])
    rich(b - 8, c + 20, [("*", 40, 0, N, N, ARIAL)])

tdf = pd.DataFrame(texts)
for (fnt, st, wt), g in tdf.groupby(["fnt", "st", "wt"]):
    layers.append(alt.Chart(g.drop(columns=["fnt", "st", "wt"])).mark_text(
        align="left", baseline="alphabetic", font=fnt, fontStyle=st, fontWeight=wt, color="#111111").encode(
        x=alt.X("x:Q", scale=None, axis=None), y=alt.Y("y:Q", scale=None, axis=None), text="t:N",
        size=alt.Size("fs:Q", scale=None), angle=alt.Angle("a:Q", scale=None)))

chart = alt.layer(*layers).resolve_scale(x="independent", y="independent").resolve_axis(x="independent", y="independent").properties(
    width=W, height=H, padding=0,
    autosize=alt.AutoSizeParams(type="none", contains="padding"), background="white"
).configure_view(stroke=None)

chart.save("out.html", embed_options={"renderer": "svg", "actions": False})
